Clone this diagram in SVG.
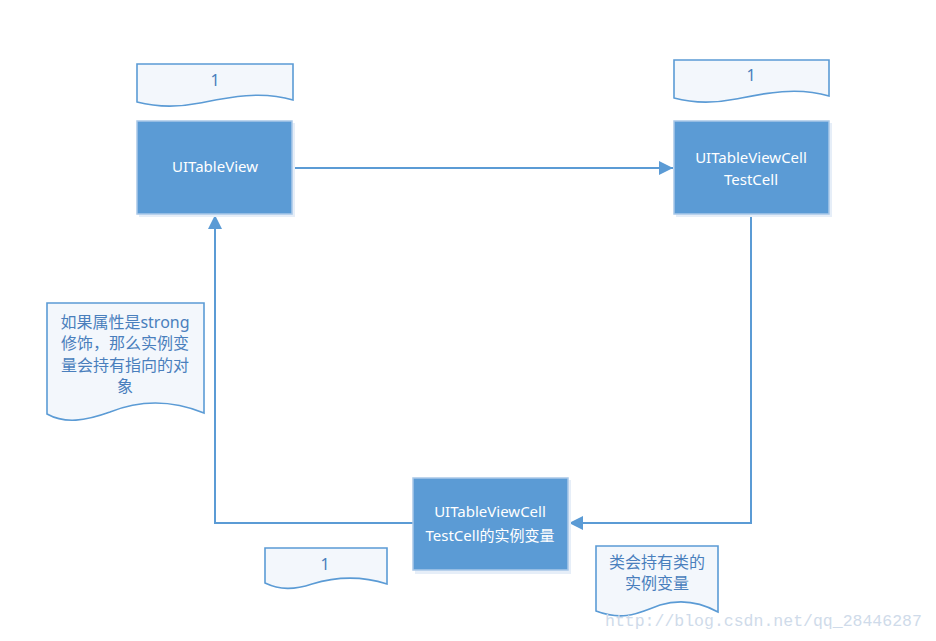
<svg xmlns="http://www.w3.org/2000/svg" width="936" height="641" viewBox="0 0 936 641">
<style>
.box{fill:#5b9bd5;stroke:#a9c8e8;stroke-width:1.5}
.shadow{fill:#e6eef8}
.doc{fill:#f3f7fc;stroke:#5b9bd5;stroke-width:1.6}
.bt{fill:#ffffff;font-family:"Noto Sans","Noto Sans CJK SC",sans-serif;font-size:15px;text-anchor:middle}
.dt{fill:#4a7fbd;font-family:"Noto Sans","Noto Sans CJK SC",sans-serif;font-size:16px;text-anchor:middle}
.conn{fill:none;stroke:#5b9bd5;stroke-width:2}
.wm{fill:#cfdbea;font-family:"Liberation Mono",monospace;font-size:16.5px}
</style>
<defs>
<marker id="ah" viewBox="0 0 10 10" refX="10" refY="5" markerWidth="7" markerHeight="7" orient="auto" markerUnits="strokeWidth">
<path d="M0,0 L10,5 L0,10 z" fill="#5b9bd5"/>
</marker>
</defs>
<rect width="936" height="641" fill="#ffffff"/>
<g id="connectors">
<path class="conn" d="M292,168 H673" marker-end="url(#ah)"/>
<path class="conn" d="M751,214 V523 H569" marker-end="url(#ah)"/>
<path class="conn" d="M413,523 H215 V215" marker-end="url(#ah)"/>
</g>
<g id="doc1">
<path class="doc" d="M137,64 H293 V100 C260,90 225,98 200,103 C180,107 160,108 137,102 Z"/>
<text class="dt" x="215" y="86">1</text>
</g>
<g id="doc2">
<path class="doc" d="M674,60 H829 V96 C796,86 761,94 736,99 C716,103 696,104 674,98 Z"/>
<text class="dt" x="751" y="81">1</text>
</g>
<g id="uitableview">
<rect class="shadow" x="139" y="123" width="156" height="94"/>
<rect class="box" x="137" y="121" width="155" height="93"/>
<text class="bt" x="215" y="172">UITableView</text>
</g>
<g id="testcell">
<rect class="shadow" x="676" y="123" width="156" height="94"/>
<rect class="box" x="674" y="121" width="155" height="93"/>
<text class="bt" x="751" y="163">UITableViewCell</text>
<text class="bt" x="751" y="185">TestCell</text>
</g>
<g id="ivar">
<rect class="shadow" x="415" y="480" width="156" height="94"/>
<rect class="box" x="413" y="478" width="155" height="92"/>
<text class="bt" x="490" y="517">UITableViewCell</text>
<text class="bt" x="490" y="541">TestCell的实例变量</text>
</g>
<g id="note-strong">
<path class="doc" d="M47,303 H204 V413 C172,400 140,400 110,412 C85,421 65,424 47,414 Z"/>
<text class="dt" x="125" y="328">如果属性是strong</text>
<text class="dt" x="125" y="349">修饰，那么实例变</text>
<text class="dt" x="125" y="371">量会持有指向的对</text>
<text class="dt" x="125" y="392">象</text>
</g>
<g id="doc4">
<path class="doc" d="M265,548 H387 V584 C362,576 335,577 312,584 C294,590 280,590 265,583 Z"/>
<text class="dt" x="325" y="570">1</text>
</g>
<g id="note-class">
<path class="doc" d="M596,546 H718 V612 C700,602 680,599 660,605 C640,612 625,622 596,611 Z"/>
<text class="dt" x="657" y="568">类会持有类的</text>
<text class="dt" x="657" y="589">实例变量</text>
</g>
<text class="wm" x="605" y="626">http://blog.csdn.net/qq_28446287</text>
</svg>
